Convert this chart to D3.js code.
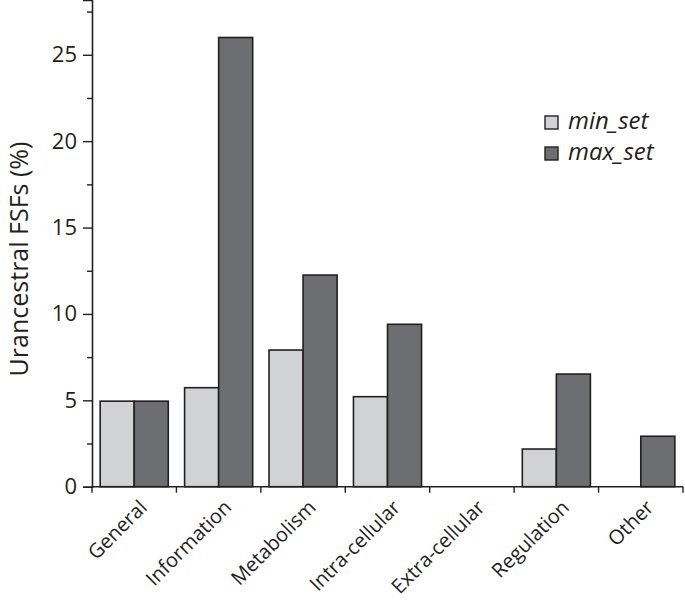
<!DOCTYPE html>
<html><head><meta charset="utf-8">
<script src="https://cdn.jsdelivr.net/npm/d3@7"></script>
<style>body{margin:0;background:#fff;} svg{display:block;font-family:"Open Sans",sans-serif;}</style>
</head><body>
<script>
const categories = ["General","Information","Metabolism","Intra-cellular","Extra-cellular","Regulation","Other"];
const seriesNames = ["min_set","max_set"];
const minSet = [4.95, 5.73, 7.91, 5.21, 0, 2.18, 0];
const maxSet = [4.95, 26.0, 12.25, 9.4, 0, 6.52, 2.92];
const yTicks = [0,5,10,15,20,25];
const yMinorTicks = [2.5,7.5,12.5,17.5,22.5,27.5];
const colors = ["#d1d2d4","#6d6e71"];

const W=685,H=607;
const svg=d3.select("body").append("svg").attr("width",W).attr("height",H);
const x0=92, x1=683, yZero=486.7, yTop=0;
const y=d3.scaleLinear().domain([0,28.17]).range([yZero,yTop]);
const x=d3.scaleBand().domain(categories).range([x0,x1]).paddingInner(0).paddingOuter(0);
const xs=d3.scaleBand().domain(seriesNames).range([0,x.bandwidth()]).paddingInner(0).paddingOuter(0.24);

const data=categories.map((c,i)=>({cat:c,vals:[minSet[i],maxSet[i]]}));
const g=svg.append("g");
g.selectAll("g.cat").data(data).join("g").attr("transform",d=>`translate(${x(d.cat)},0)`)
 .selectAll("rect").data(d=>d.vals.map((v,j)=>({v,j}))).join("rect")
 .filter(d=>d.v>0)
 .attr("x",d=>xs(seriesNames[d.j])).attr("width",xs.bandwidth())
 .attr("y",d=>y(d.v)).attr("height",d=>yZero-y(d.v))
 .attr("fill",d=>colors[d.j]).attr("stroke","#231f20").attr("stroke-width",1.6);

// y axis
const yAxis=d3.axisLeft(y).tickValues(yTicks).tickSize(9).tickPadding(6).tickFormat(d3.format("d"));
const ya=svg.append("g").attr("transform",`translate(${x0},0)`).call(yAxis);
ya.select(".domain").attr("stroke","#231f20").attr("stroke-width",1.6);
ya.selectAll(".tick line").attr("stroke","#231f20").attr("stroke-width",1.4);
ya.selectAll(".tick text").attr("font-size",22).attr("fill","#231f20").attr("font-family","Open Sans, sans-serif");
const yMinor=d3.axisLeft(y).tickValues(yMinorTicks).tickSize(5).tickFormat("");
const ym=svg.append("g").attr("transform",`translate(${x0},0)`).call(yMinor);
ym.select(".domain").remove();
ym.selectAll(".tick line").attr("stroke","#231f20").attr("stroke-width",1.4);

// x axis
const xa=svg.append("g").attr("transform",`translate(0,${yZero})`);
xa.append("line").attr("x1",x0).attr("x2",x1).attr("stroke","#231f20").attr("stroke-width",1.6);
const bounds=categories.map(c=>x(c)).concat([x1]);
xa.selectAll("line.tk").data(bounds).join("line").attr("class","tk")
 .attr("x1",d=>d).attr("x2",d=>d).attr("y1",0).attr("y2",6).attr("stroke","#231f20").attr("stroke-width",1.4);
xa.selectAll("text").data(categories).join("text")
 .attr("transform",d=>`translate(${x(d)+x.bandwidth()/2+14},${22}) rotate(-45)`)
 .attr("text-anchor","end").attr("font-size",20).attr("fill","#231f20").text(d=>d);

// y label
svg.append("text").attr("transform",`translate(28,${259}) rotate(-90)`).attr("text-anchor","middle")
 .attr("font-size",25).attr("fill","#231f20").text("Urancestral FSFs (%)");

// legend
const lg=svg.append("g").attr("transform","translate(545,116)");
seriesNames.forEach((s,i)=>{
  lg.append("rect").attr("x",0).attr("y",i*31).attr("width",13).attr("height",13)
    .attr("fill",colors[i]).attr("stroke","#231f20").attr("stroke-width",1.4);
  lg.append("text").attr("x",23).attr("y",i*31+13).attr("font-size",24).attr("font-style","italic")
    .attr("fill","#231f20").text(s);
});
</script>
</body></html>
